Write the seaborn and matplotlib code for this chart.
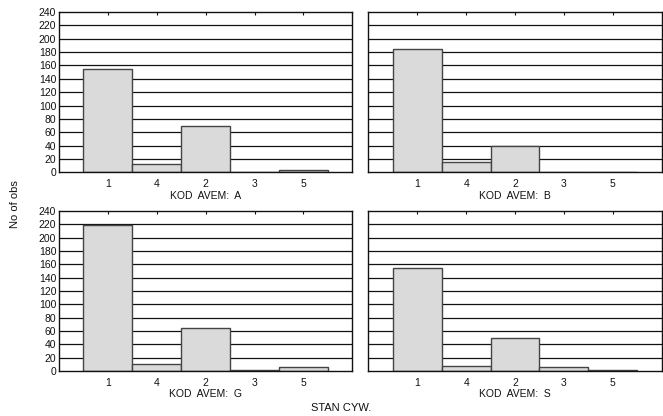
import matplotlib
matplotlib.use("Agg")
import matplotlib.pyplot as plt
import seaborn as sns
import pandas as pd

stan_cyw = ["1", "4", "2", "3", "5"]
groups = ["A", "B", "G", "S"]
counts_a = [154, 12, 70, 1, 3]
counts_b = [185, 15, 40, 1, 1]
counts_g = [218, 10, 65, 1, 6]
counts_s = [155, 8, 49, 6, 2]
y_ticks = list(range(0, 241, 20))

rows = []
for g, vals in zip(groups, [counts_a, counts_b, counts_g, counts_s]):
    for c, v in zip(stan_cyw, vals):
        rows.append({"kod": g, "stan": c, "n": v})
df = pd.DataFrame(rows)

sns.set_style("white")
plt.rcParams["font.family"] = ["Liberation Sans", "DejaVu Sans"]
plt.rcParams["text.color"] = "#111111"
plt.rcParams["xtick.color"] = "#111111"
plt.rcParams["ytick.color"] = "#111111"
plt.rcParams["axes.labelcolor"] = "#111111"

fig, axes = plt.subplots(2, 2, figsize=(6.63, 4.16), dpi=100)
fig.subplots_adjust(left=0.089, right=0.998, top=0.971, bottom=0.108,
                    wspace=0.055, hspace=0.24)

for ax, g in zip(axes.flat, groups):
    d = df[df["kod"] == g]
    for y in y_ticks[1:-1]:
        ax.axhline(y, color="#111111", lw=0.9, zorder=0)
    sns.barplot(data=d, x="stan", y="n", order=stan_cyw, ax=ax,
                color="#dadada", saturation=1, width=1.0,
                edgecolor="#444444", linewidth=1.0, zorder=2)
    ax.set_xlim(-1, 5)
    ax.set_ylim(0, 240)
    ax.set_yticks(y_ticks)
    ax.set_ylabel("")
    ax.set_xlabel("KOD  AVEM:  " + g, fontsize=7.5, labelpad=1)
    ax.tick_params(axis="x", direction="in", length=2.5, top=True,
                   labelsize=7.5, pad=5)
    ax.tick_params(axis="y", length=0, labelsize=7.5, pad=2)
    for s in ax.spines.values():
        s.set_color("#111111")
        s.set_linewidth(1.0)
    if ax in (axes[0, 1], axes[1, 1]):
        ax.set_yticklabels([])

fig.text(0.022, 0.51, "No of obs", rotation=90, ha="center", va="center",
         fontsize=8)
fig.text(0.514, 0.02, "STAN CYW.", ha="center", va="center", fontsize=8)

plt.savefig("out.png", dpi=100)
